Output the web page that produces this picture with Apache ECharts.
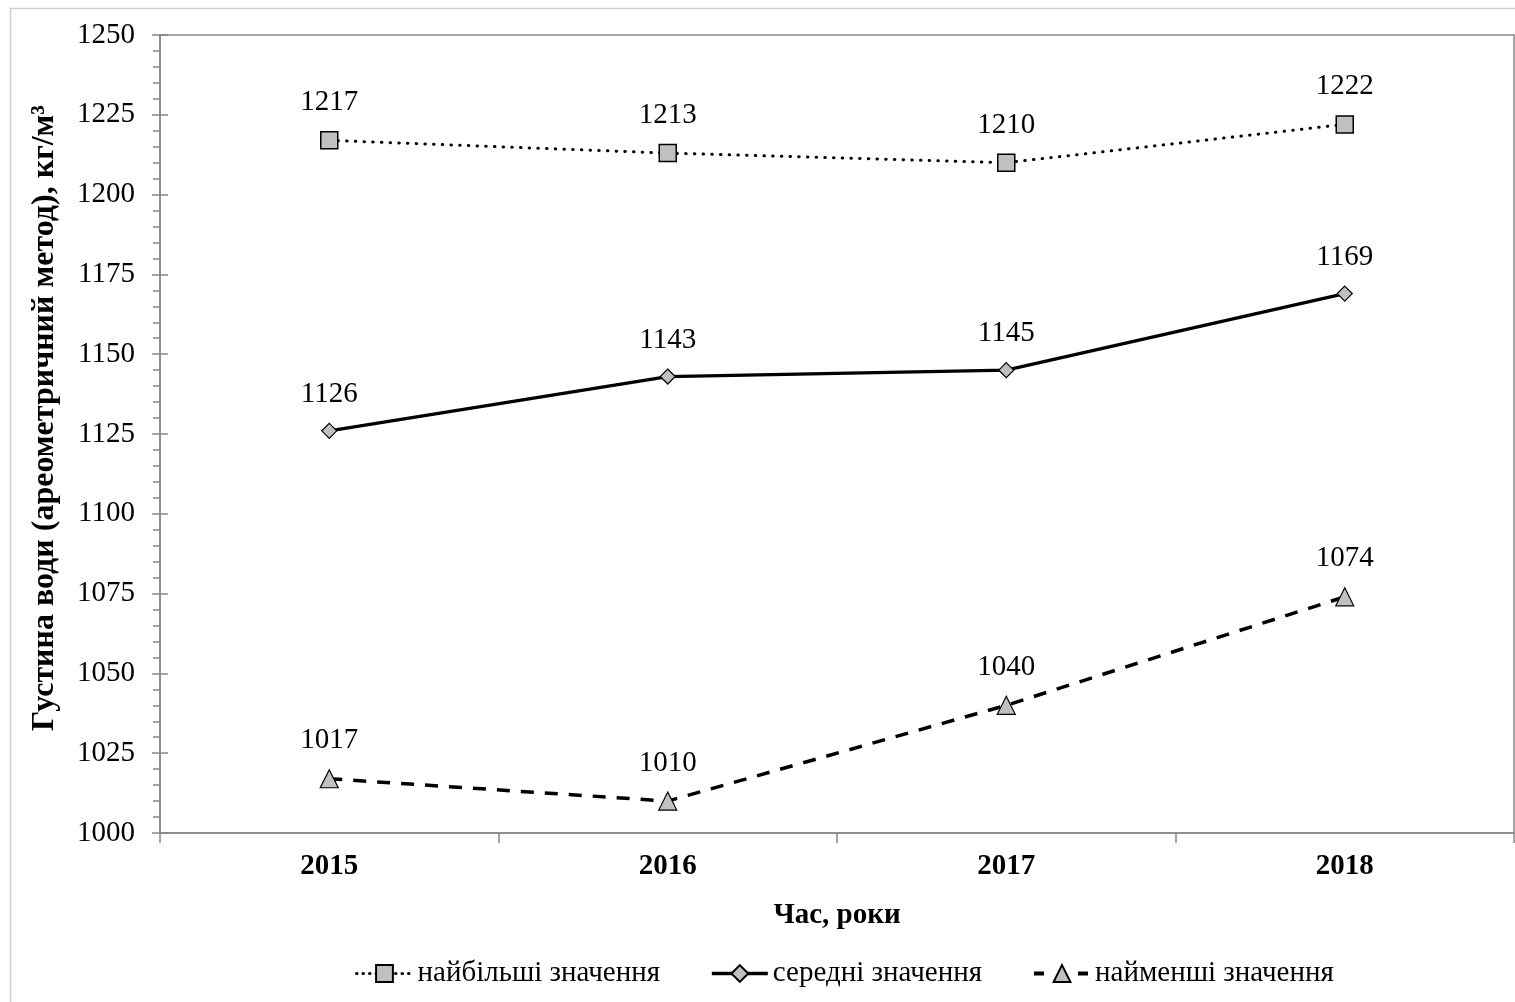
<!DOCTYPE html>
<html>
<head>
<meta charset="utf-8">
<script src="https://cdn.jsdelivr.net/npm/echarts@6/dist/echarts.min.js"></script>
<style>
  html, body { margin: 0; padding: 0; background: #fff; }
  #chart { width: 1515px; height: 1002px; }
</style>
</head>
<body>
<div id="chart"></div>
<script>
// Water density by year (hydrometer method), kg/m³
const years = ['2015', '2016', '2017', '2018'];
const maxValues = [1217, 1213, 1210, 1222];
const meanValues = [1126, 1143, 1145, 1169];
const minValues = [1017, 1010, 1040, 1074];
const seriesNames = ['найбільші значення', 'середні значення', 'найменші значення'];
const yTitle = 'Густина води (ареометричний метод), кг/м³';
const xTitle = 'Час, роки';

const FONT = '"Liberation Serif", "Times New Roman", serif';
const FS = 29;
const AXIS_GRAY = '#868686';
const MARKER_FILL = '#c0c0c0';

const DOTTED = [0.5, 8.2];
const DASHED = [13, 11];

const chart = echarts.init(document.getElementById('chart'), null, { renderer: 'canvas' });

const labelStyle = {
  show: true,
  position: 'top',
  distance: 14,
  color: '#000',
  fontFamily: FONT,
  fontSize: FS
};

chart.setOption({
  animation: false,
  backgroundColor: '#fff',
  graphic: [{
    type: 'rect',
    shape: { x: 10.5, y: 8.5, width: 1600, height: 1100 },
    style: { fill: 'none', stroke: '#d0d0d0', lineWidth: 1.5 },
    silent: true
  }, {
    type: 'text',
    x: 45,
    y: 418,
    rotation: Math.PI / 2,
    style: {
      text: yTitle,
      fontFamily: FONT,
      fontSize: 32,
      fontWeight: 'bold',
      fill: '#000',
      align: 'center',
      verticalAlign: 'middle'
    },
    silent: true
  }],
  grid: {
    left: 160, right: 1, top: 35, bottom: 169,
    show: true,
    borderColor: AXIS_GRAY,
    borderWidth: 1.5,
    backgroundColor: 'transparent'
  },
  legend: {
    bottom: 9,
    left: 350,
    itemWidth: 56,
    itemHeight: 21,
    itemGap: 50,
    lineStyle: { width: 3 },
    textStyle: { fontFamily: FONT, fontSize: FS, color: '#000' },
    data: [
      { name: seriesNames[0], lineStyle: { width: 3, type: [0.5, 6], cap: 'round' } },
      { name: seriesNames[1], lineStyle: { width: 3.5 } },
      { name: seriesNames[2], lineStyle: { width: 4, type: [10, 34] } }
    ]
  },
  xAxis: {
    type: 'category',
    data: years,
    boundaryGap: true,
    name: xTitle,
    nameLocation: 'middle',
    nameGap: 68,
    nameTextStyle: { fontFamily: FONT, fontSize: FS, fontWeight: 'bold', color: '#000' },
    axisLine: { lineStyle: { color: AXIS_GRAY, width: 1.5 } },
    axisTick: { show: true, alignWithLabel: false, length: 10, lineStyle: { color: AXIS_GRAY, width: 1.5 } },
    axisLabel: { fontFamily: FONT, fontSize: FS, fontWeight: 'bold', color: '#000', margin: 19 },
    splitLine: { show: false }
  },
  yAxis: [{
    type: 'value',
    min: 1000,
    max: 1250,
    interval: 25,
    axisLine: { show: true, lineStyle: { color: AXIS_GRAY, width: 1.5 } },
    axisTick: { show: true, length: 8, lineStyle: { color: AXIS_GRAY, width: 1.5 } },
    minorTick: { show: true, splitNumber: 5, length: 7, lineStyle: { color: AXIS_GRAY, width: 1.5 } },
    axisLabel: { fontFamily: FONT, fontSize: FS, color: '#000', margin: 25, formatter: v => String(v) },
    splitLine: { show: false }
  }, {
    // inner half of the major ticks, so they cross the axis line
    type: 'value',
    position: 'left',
    min: 1000,
    max: 1250,
    interval: 25,
    axisLine: { show: false },
    axisTick: { show: true, inside: true, length: 8, lineStyle: { color: AXIS_GRAY, width: 1.5 } },
    axisLabel: { show: false },
    splitLine: { show: false }
  }],
  series: [{
    name: seriesNames[0],
    type: 'line',
    data: maxValues,
    symbol: 'rect',
    symbolSize: 17,
    itemStyle: { color: MARKER_FILL, borderColor: '#000', borderWidth: 1.5 },
    lineStyle: { color: '#000', width: 3, type: DOTTED, cap: 'round' },
    label: labelStyle,
    z: 3
  }, {
    name: seriesNames[1],
    type: 'line',
    data: meanValues,
    symbol: 'diamond',
    symbolSize: 15,
    itemStyle: { color: MARKER_FILL, borderColor: '#000', borderWidth: 1.2 },
    lineStyle: { color: '#000', width: 3.3, type: 'solid' },
    label: labelStyle,
    z: 3
  }, {
    name: seriesNames[2],
    type: 'line',
    data: minValues,
    symbol: 'triangle',
    symbolSize: 18,
    itemStyle: { color: MARKER_FILL, borderColor: '#000', borderWidth: 1.2 },
    lineStyle: { color: '#000', width: 3.5, type: DASHED },
    label: labelStyle,
    z: 3
  }]
});
</script>
</body>
</html>
